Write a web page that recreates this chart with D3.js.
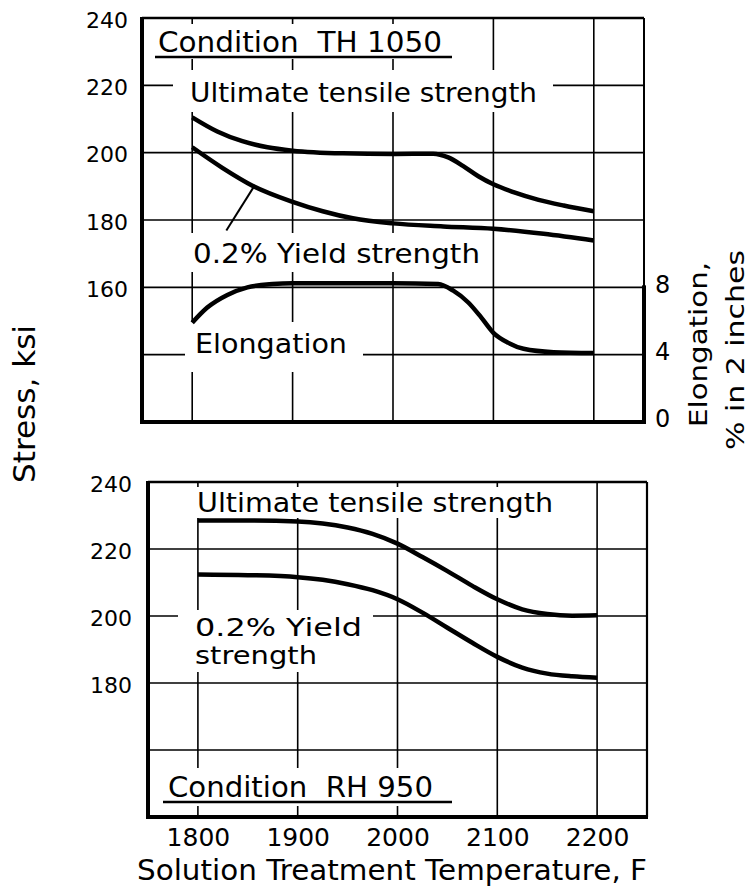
<!DOCTYPE html>
<html>
<head>
<meta charset="utf-8">
<script src="https://cdn.jsdelivr.net/npm/d3@7"></script>
<style>
  html, body { margin: 0; padding: 0; background: #fff; }
  svg { display: block; }
  text { font-family: "DejaVu Sans", sans-serif; fill: #000; white-space: pre; }
</style>
</head>
<body>
<div id="chart"></div>
<script>
// ---------------- DATA ----------------
const xTicks = [1800, 1900, 2000, 2100, 2200];

// Condition TH 1050 (top panel)
const thUtsTemp = [1800, 1825, 1850, 1875, 1900, 1950, 2000, 2040, 2055, 2070, 2085, 2100, 2120, 2145, 2170, 2200];
const thUts     = [210.5, 206.3, 203.4, 201.6, 200.6, 199.8, 199.6, 199.7, 198.6, 196.0, 193.0, 190.6, 188.3, 186.0, 184.3, 182.6];
const thYsTemp  = [1800, 1830, 1860, 1900, 1930, 1960, 2000, 2050, 2100, 2150, 2200];
const thYs      = [201.6, 195.5, 190.2, 185.4, 182.6, 180.5, 179.0, 178.1, 177.4, 175.9, 173.9];
const thElTemp  = [1800, 1815, 1835, 1855, 1880, 1900, 1950, 2000, 2045, 2060, 2075, 2088, 2100, 2115, 2130, 2160, 2200];
const thElong   = [5.9, 6.8, 7.55, 8.0, 8.2, 8.25, 8.25, 8.25, 8.2, 7.8, 7.1, 6.2, 5.3, 4.7, 4.35, 4.15, 4.1];
const topStressTicks = [240, 220, 200, 180, 160];
const topStressGrid  = [220, 200, 180, 160, 140];
const elongTicks = [0, 4, 8];
const ysLeader = [[1834, 176.9], [1861, 189.7]];

// Condition RH 950 (bottom panel)
const rhTemp = [1800, 1850, 1900, 1925, 1950, 1975, 2000, 2025, 2050, 2075, 2100, 2125, 2150, 2175, 2200];
const rhUts  = [228.5, 228.5, 228.2, 227.6, 226.4, 224.5, 221.6, 217.6, 213.4, 209.0, 205.0, 202.0, 200.6, 200.1, 200.2];
const rhYs   = [212.4, 212.2, 211.6, 210.8, 209.5, 207.7, 205.0, 201.0, 196.5, 192.0, 187.8, 184.6, 182.8, 182.0, 181.6];
const botStressTicks = [240, 220, 200, 180];
const botStressGrid  = [220, 200, 180, 160];

// ---------------- SETUP ----------------
const W = 751, H = 890;
const svg = d3.select("#chart").append("svg").attr("width", W).attr("height", H);

const xTop = d3.scaleLinear().domain([1750, 2250]).range([142, 644]);
const yTop = d3.scaleLinear().domain([120, 240]).range([422, 18]);
const eTop = d3.scaleLinear().domain([0, 8]).range([422, yTop(160)]);

const xBot = d3.scaleLinear().domain([1750, 2250]).range([148, 647]);
const yBot = d3.scaleLinear().domain([140, 240]).range([817, 482]);

const GRID_W = 1.6, CURVE_W = 4.5;

function grid(g, xs, ys, xTicksArr, yGridArr) {
  g.selectAll(".vg").data(xTicksArr).enter().append("line")
    .attr("x1", d => xs(d)).attr("x2", d => xs(d))
    .attr("y1", ys.range()[1]).attr("y2", ys.range()[0])
    .attr("stroke", "#000").attr("stroke-width", GRID_W);
  g.selectAll(".hg").data(yGridArr).enter().append("line")
    .attr("x1", xs.range()[0]).attr("x2", xs.range()[1])
    .attr("y1", d => ys(d)).attr("y2", d => ys(d))
    .attr("stroke", "#000").attr("stroke-width", GRID_W);
}

function knockout(g, x0, y0, x1, y1) {
  g.append("rect").attr("x", x0).attr("y", y0).attr("width", x1 - x0).attr("height", y1 - y0)
    .attr("fill", "#fff");
}

function curve(g, xs, ys, temps, vals) {
  const line = d3.line().x(d => xs(d[0])).y(d => ys(d[1])).curve(d3.curveMonotoneX);
  g.append("path").datum(temps.map((t, i) => [t, vals[i]]))
    .attr("d", line).attr("fill", "none").attr("stroke", "#000")
    .attr("stroke-width", CURVE_W).attr("stroke-linejoin", "round");
}

function label(g, txt, x, y, size, len) {
  const t = g.append("text").attr("x", x).attr("y", y).attr("font-size", size).text(txt);
  if (len) t.attr("textLength", len).attr("lengthAdjust", "spacingAndGlyphs");
  return t;
}

// ---------------- TOP PANEL ----------------
const topG = svg.append("g");
grid(topG, xTop, yTop, xTicks, topStressGrid);
knockout(topG, 150, 24, 456, 59);
knockout(topG, 173, 70, 553, 112);
knockout(topG, 183, 233, 488, 272);
knockout(topG, 185, 322, 363, 372);

curve(topG, xTop, yTop, thUtsTemp, thUts);
curve(topG, xTop, yTop, thYsTemp, thYs);
curve(topG, xTop, eTop, thElTemp, thElong);

topG.append("line")
  .attr("x1", xTop(ysLeader[0][0])).attr("y1", yTop(ysLeader[0][1]))
  .attr("x2", xTop(ysLeader[1][0])).attr("y2", yTop(ysLeader[1][1]))
  .attr("stroke", "#000").attr("stroke-width", 2);

topG.append("line").attr("x1", xTop.range()[0]).attr("x2", xTop.range()[1])
  .attr("y1", yTop.range()[1]).attr("y2", yTop.range()[1]).attr("stroke", "#000").attr("stroke-width", 2.5);
topG.append("line").attr("x1", xTop.range()[1]).attr("x2", xTop.range()[1])
  .attr("y1", yTop.range()[1]).attr("y2", eTop(8)).attr("stroke", "#000").attr("stroke-width", 2);
topG.append("line").attr("x1", xTop.range()[1]).attr("x2", xTop.range()[1])
  .attr("y1", eTop(8) - 2).attr("y2", yTop.range()[0] + 2).attr("stroke", "#000").attr("stroke-width", 4);
topG.append("line").attr("x1", xTop.range()[0]).attr("x2", xTop.range()[0])
  .attr("y1", yTop.range()[1] - 1).attr("y2", yTop.range()[0] + 2).attr("stroke", "#000").attr("stroke-width", 4);
topG.append("line").attr("x1", xTop.range()[0] - 2).attr("x2", xTop.range()[1] + 2)
  .attr("y1", yTop.range()[0]).attr("y2", yTop.range()[0]).attr("stroke", "#000").attr("stroke-width", 4);

label(topG, "Condition  TH 1050", 158, 52, 28, 284);
topG.append("line").attr("x1", 155).attr("x2", 452).attr("y1", 57).attr("y2", 57)
  .attr("stroke", "#000").attr("stroke-width", 2.5);
label(topG, "Ultimate tensile strength", 190, 102, 27, 347);
label(topG, "0.2% Yield strength", 193, 263, 27, 287);
label(topG, "Elongation", 195, 353, 27, 152);

const topLeftAxis = topG.append("g").attr("transform", `translate(${xTop.range()[0]},2)`)
  .call(d3.axisLeft(yTop).tickValues(topStressTicks).tickSize(0).tickPadding(14).tickFormat(d3.format("d")));
const topRightAxis = topG.append("g").attr("transform", `translate(${xTop.range()[1]},-3)`)
  .call(d3.axisRight(eTop).tickValues(elongTicks).tickSize(0).tickPadding(11).tickFormat(d3.format("d")));
topLeftAxis.selectAll("text").attr("font-size", 22).attr("font-family", "DejaVu Sans");
topRightAxis.selectAll("text").attr("font-size", 24).attr("font-family", "DejaVu Sans");
[topLeftAxis, topRightAxis].forEach(a => a.select(".domain").remove());

// ---------------- BOTTOM PANEL ----------------
const botG = svg.append("g");
grid(botG, xBot, yBot, xTicks, botStressGrid);
knockout(botG, 190, 487, 558, 518);
knockout(botG, 178, 610, 373, 672);
knockout(botG, 158, 768, 458, 806);

curve(botG, xBot, yBot, rhTemp, rhUts);
curve(botG, xBot, yBot, rhTemp, rhYs);

botG.append("line").attr("x1", xBot.range()[0]).attr("x2", xBot.range()[1])
  .attr("y1", yBot.range()[1]).attr("y2", yBot.range()[1]).attr("stroke", "#000").attr("stroke-width", 2.5);
botG.append("line").attr("x1", xBot.range()[1]).attr("x2", xBot.range()[1])
  .attr("y1", yBot.range()[1]).attr("y2", yBot.range()[0]).attr("stroke", "#000").attr("stroke-width", 2.2);
botG.append("line").attr("x1", xBot.range()[0]).attr("x2", xBot.range()[0])
  .attr("y1", yBot.range()[1] - 1).attr("y2", yBot.range()[0] + 2).attr("stroke", "#000").attr("stroke-width", 4);
botG.append("line").attr("x1", xBot.range()[0] - 2).attr("x2", xBot.range()[1] + 1)
  .attr("y1", yBot.range()[0]).attr("y2", yBot.range()[0]).attr("stroke", "#000").attr("stroke-width", 4);

label(botG, "Ultimate tensile strength", 197, 512, 27, 356);
label(botG, "0.2% Yield", 195, 636, 25, 167);
label(botG, "strength", 195, 664, 25, 122);
label(botG, "Condition  RH 950", 168, 797, 28, 265);
botG.append("line").attr("x1", 163).attr("x2", 452).attr("y1", 802).attr("y2", 802)
  .attr("stroke", "#000").attr("stroke-width", 2.5);

const botLeftAxis = botG.append("g").attr("transform", `translate(${xBot.range()[0]},2)`)
  .call(d3.axisLeft(yBot).tickValues(botStressTicks).tickSize(0).tickPadding(16).tickFormat(d3.format("d")));
botLeftAxis.selectAll("text").attr("font-size", 22).attr("font-family", "DejaVu Sans");
botLeftAxis.select(".domain").remove();

const botXAxis = botG.append("g").attr("transform", `translate(0,${yBot.range()[0]})`)
  .call(d3.axisBottom(xBot).tickValues(xTicks).tickSize(0).tickFormat(d3.format("d")));
botXAxis.select(".domain").remove();
botXAxis.selectAll("text").attr("font-size", 25).attr("font-family", "DejaVu Sans")
  .attr("y", 29).attr("dy", 0);

// ---------------- AXIS TITLES ----------------
label(svg, "Solution Treatment Temperature, F", 137, 880, 28, 510);
svg.append("text").attr("transform", "translate(35,483) rotate(-90)")
  .attr("font-size", 30).attr("textLength", 158).attr("lengthAdjust", "spacingAndGlyphs")
  .text("Stress, ksi");
svg.append("text").attr("transform", "translate(707,427) rotate(-90)")
  .attr("font-size", 25).attr("textLength", 165).attr("lengthAdjust", "spacingAndGlyphs")
  .text("Elongation,");
svg.append("text").attr("transform", "translate(744,450) rotate(-90)")
  .attr("font-size", 25).attr("textLength", 200).attr("lengthAdjust", "spacingAndGlyphs")
  .text("% in 2 inches");
</script>
</body>
</html>
